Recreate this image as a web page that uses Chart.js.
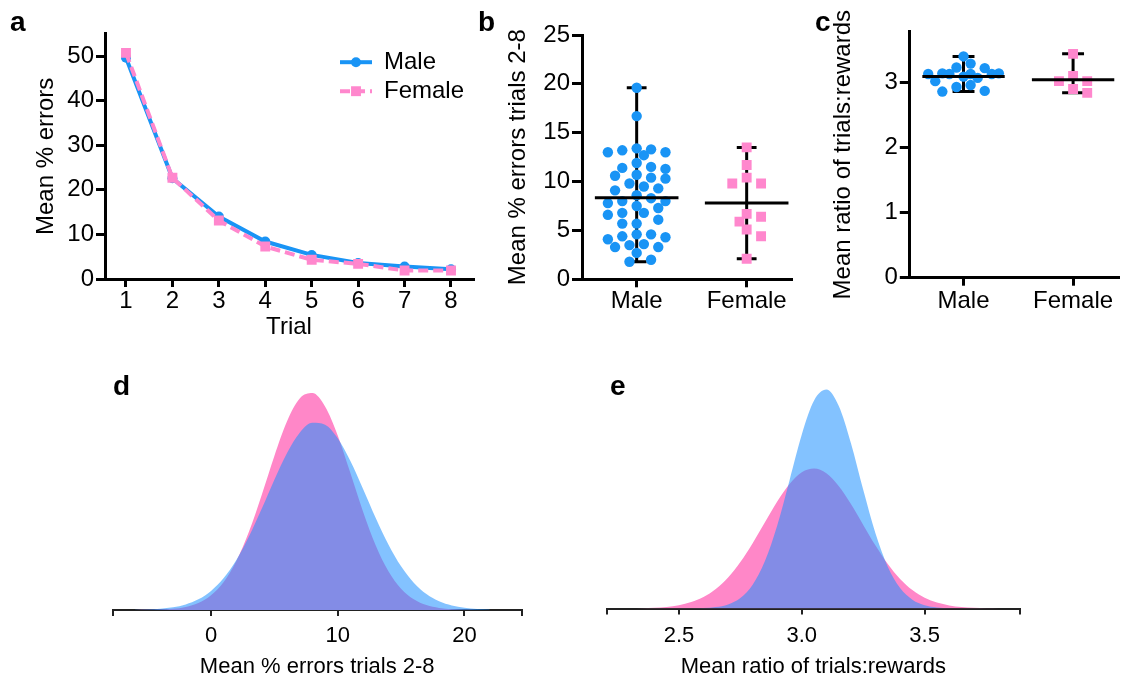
<!DOCTYPE html>
<html>
<head>
<meta charset="utf-8">
<script src="https://cdn.jsdelivr.net/npm/chart.js@4.4.0/dist/chart.umd.min.js"></script>
<style>
    html, body { margin: 0; padding: 0; background: #fff; }
    #page { position: relative; width: 1125px; height: 681px; overflow: hidden; }
    #page canvas { position: absolute; left: 0; top: 0; }
    .tag { position: absolute; font: bold 28px "Liberation Sans", Arial, sans-serif; line-height: 28px; color: #000; }
</style>
</head>
<body>
<div id="page">
    <canvas id="chart-a" width="1125" height="681"></canvas>
    <canvas id="chart-b" width="1125" height="681"></canvas>
    <canvas id="chart-c" width="1125" height="681"></canvas>
    <canvas id="chart-d" width="1125" height="681"></canvas>
    <canvas id="chart-e" width="1125" height="681"></canvas>
    <div class="tag" style="left:10px;top:8px">a</div>
    <div class="tag" style="left:478px;top:8px">b</div>
    <div class="tag" style="left:815px;top:8px">c</div>
    <div class="tag" style="left:113px;top:372px">d</div>
    <div class="tag" style="left:610px;top:372px">e</div>
</div>
<script>
// ---- data ----
var groups = ["Male", "Female"]

// a: mean % errors per trial
var trials = [1, 2, 3, 4, 5, 6, 7, 8]
var maleErrorsByTrial = [49.6, 22.6, 14.0, 8.4, 5.4, 3.6, 2.8, 2.2]
var femaleErrorsByTrial = [50.7, 22.7, 13.1, 7.3, 4.3, 3.4, 1.9, 1.9]
var errorTicks = [0, 10, 20, 30, 40, 50]

// b: mean % errors trials 2-8, one value per animal
var maleErrB = [19.6, 16.7, 13.3, 13.0, 13.4, 13.0, 13.2, 12.7, 11.9, 11.4, 11.3, 11.5, 10.3, 10.7, 10.6,
    10.4, 9.5, 9.3, 9.8, 9.1, 8.6, 8.3, 8.0, 7.8, 8.0, 7.5, 7.3, 6.8, 6.8, 6.6, 6.1, 5.7, 5.7, 4.6, 4.6,
    4.3, 4.4, 4.1, 3.3, 3.6, 3.5, 3.3, 2.7, 2.0, 1.8]
var femaleErrB = [13.5, 11.7, 9.8, 9.8, 10.4, 6.7, 6.4, 5.9, 5.1, 4.4, 2.1]
var maleMeanB = 8.35
var femaleMeanB = 7.8
var errBTicks = [0, 5, 10, 15, 20, 25]

// c: mean ratio of trials:rewards
var maleRatioC = [3.40, 3.29, 3.22, 3.13, 3.02, 3.13, 3.14, 3.14, 3.13, 3.23, 3.13, 3.09, 3.07, 2.96, 2.93, 2.86, 2.87]
var femaleRatioC = [3.44, 3.10, 3.02, 3.02, 2.90, 2.84]
var maleMeanC = 3.09
var femaleMeanC = 3.04
var ratioCTicks = [0, 1, 2, 3]

// d: fitted distributions of % errors (relative density)
var errGrid = [-6, -5, -4, -3, -2, -1, 0, 1, 2, 3, 4, 5, 6, 7, 8, 9, 10, 11, 12, 13, 14, 15, 16, 17, 18, 19, 20, 21, 22]
var maleErrCurve = [0.2, 0.5, 1.3, 2.7, 5.6, 10.7, 19.1, 32.0, 50.1, 73.7, 101.2, 130.3, 157.0, 177.3, 187.3,
    185.3, 171.7, 149.0, 121.1, 92.1, 65.6, 43.7, 27.3, 16.0, 8.7, 4.5, 2.2, 1.0, 0.4]
var femaleErrCurve = [0.0, 0.2, 0.5, 1.2, 3.1, 7.0, 14.7, 28.0, 49.1, 78.5, 115.1, 154.1, 188.8, 211.6, 216.9,
    203.5, 174.5, 136.9, 98.3, 64.6, 38.8, 21.3, 10.7, 4.9, 2.1, 0.8, 0.3, 0.1, 0.0]
var errDTicks = [0, 10, 20]

// e: fitted distributions of trials:rewards ratio (relative density)
var ratioGrid = [2.25, 2.30, 2.35, 2.40, 2.45, 2.50, 2.55, 2.60, 2.65, 2.70, 2.75, 2.80, 2.85, 2.90, 2.95, 3.00,
    3.05, 3.10, 3.15, 3.20, 3.25, 3.30, 3.35, 3.40, 3.45, 3.50, 3.55, 3.60, 3.65, 3.70, 3.75, 3.80, 3.85]
var maleRatioCurve = [0, 0, 0, 0, 0, 0, 0.1, 0.4, 1.4, 4.1, 10.5, 23.8, 47.4, 83.0, 128.1, 174.0,
    208.0, 218.9, 202.7, 165.3, 118.7, 75.0, 41.7, 20.4, 8.8, 3.3, 1.1, 0.3, 0, 0, 0, 0, 0]
var femaleRatioCurve = [0.1, 0.1, 0.3, 0.7, 1.6, 3.3, 6.4, 11.5, 19.5, 31.1, 46.5, 65.3, 86.2, 106.9, 124.5, 136.2,
    140.0, 135.2, 122.6, 104.5, 83.6, 62.9, 44.4, 29.5, 18.4, 10.8, 5.9, 3.1, 1.5, 0.7, 0.3, 0.1, 0.0]
var ratioETicks = [2.5, 3.0, 3.5]

// ---- styles ----
var FONT = '"Liberation Sans", Arial, sans-serif'
var BLUE = "rgb(25, 148, 245)"
var PINK = "rgb(255, 135, 205)"
var BLUE_FILL = "rgba(30, 144, 255, 0.55)"
var PINK_FILL = "rgb(255, 135, 200)"

Chart.defaults.font.family = FONT
Chart.defaults.color = "#000"
Chart.defaults.animation = false
Chart.defaults.plugins.legend.display = false
Chart.defaults.plugins.tooltip.enabled = false

function Elem(id){ return document.getElementById(id) }
function fixWidth(w){ return function(scale){ scale.width = w } }
function fixHeight(h){ return function(scale){ scale.height = h } }
function setTicks(list, withBounds){
    return function(scale){
        var vals = withBounds ? [scale.min].concat(list, [scale.max]) : list
        scale.ticks = vals.map(function(v){ return {value: v} })
    }
}
function xy(xs, ys){ return xs.map(function(x, i){ return {x: x, y: ys[i]} }) }

// beeswarm: horizontal offsets (in x units) so that dots don't pile up,
// kept inside +-maxOff px (least crowded spot wins when nothing is free)
function swarm(values, center, yPx, xPx, gap, step, maxOff){
    var placed = []
    var idx = values.map(function(v, i){ return i }).sort(function(a, b){ return values[b] - values[a] })
    var out = []
    var n = Math.floor(maxOff / step)
    idx.forEach(function(i){
        var y = values[i] * yPx
        var pick = null, best = 0, bestD = -1
        for(var k = 0; k <= 2 * n; k++){
            var dx = (k % 2 ? 1 : -1) * Math.ceil(k / 2) * step
            var d = placed.reduce(function(m, p){ return Math.min(m, Math.hypot(p.x - dx, p.y - y)) }, Infinity)
            if(d >= gap){ pick = dx; break }
            if(d > bestD){ bestD = d; best = dx }
        }
        if(pick === null) pick = best
        placed.push({x: pick, y: y})
        out[i] = {x: center + pick / xPx, y: values[i]}
    })
    return out
}
function rangeBar(center, vals, cap){
    var lo = Math.min.apply(null, vals), hi = Math.max.apply(null, vals)
    return [
        {x: center - cap, y: hi}, {x: center + cap, y: hi}, {x: center, y: null},
        {x: center, y: hi}, {x: center, y: lo}, {x: center, y: null},
        {x: center - cap, y: lo}, {x: center + cap, y: lo}
    ]
}
function meanBar(center, mean, half){
    return [{x: center - half, y: mean}, {x: center + half, y: mean}]
}

// legend drawn inside the plot area of panel a
var inlineLegend = {
    id: "inlineLegend",
    afterDatasetsDraw: function(chart){
        var ctx = chart.ctx
        var area = chart.chartArea
        var x0 = area.right - 133
        var y0 = area.top + 28.5
        groups.forEach(function(name, i){
            var ds = chart.data.datasets.find(function(d){ return d.label == name })
            var y = y0 + i * 29
            ctx.save()
            ctx.strokeStyle = ds.borderColor
            ctx.lineWidth = ds.borderWidth
            ctx.setLineDash(ds.borderDash || [])
            ctx.beginPath(); ctx.moveTo(x0, y); ctx.lineTo(x0 + 32, y); ctx.stroke()
            ctx.setLineDash([])
            ctx.fillStyle = ds.backgroundColor
            Chart.helpers.drawPoint(ctx, {pointStyle: ds.pointStyle, radius: ds.pointRadius, borderWidth: 0, rotation: 0}, x0 + 16, y)
            ctx.fillStyle = "#000"
            ctx.font = "24px " + FONT
            ctx.textBaseline = "middle"
            ctx.fillText(name, x0 + 44, y)
            ctx.restore()
        })
    }
}

function axisStyle(tickLen, width, color){
    return {
        grid: {drawOnChartArea: false, drawTicks: true, tickLength: tickLen, lineWidth: width, color: color},
        border: {display: true, color: color, width: width}
    }
}

// ---- a ----
var aX = axisStyle(8, 3, "#000"), aY = axisStyle(9, 3, "#000")
new Chart(Elem("chart-a"), {
    type: "line",
    data: {datasets: [
        {label: "Female", data: xy(trials, femaleErrorsByTrial), borderColor: PINK, backgroundColor: PINK,
         borderWidth: 4, borderDash: [10, 5], pointStyle: "rect", pointRadius: 7, pointBorderWidth: 0, order: 0},
        {label: "Male", data: xy(trials, maleErrorsByTrial), borderColor: BLUE, backgroundColor: BLUE,
         borderWidth: 4, pointStyle: "circle", pointRadius: 5, pointBorderWidth: 0, order: 1}
    ]},
    options: {
        responsive: false,
        layout: {padding: {left: 20, top: 33.7, right: 652, bottom: 336}},
        scales: {
            x: {type: "linear", min: 0.548, max: 8.474, afterBuildTicks: setTicks(trials), afterFit: fixHeight(66),
                grid: aX.grid, border: aX.border, ticks: {font: {size: 24}, padding: 0},
                title: {display: true, text: "Trial", font: {size: 24}, padding: {top: 0, bottom: 3}}},
            y: {min: 0, max: 55, afterBuildTicks: setTicks(errorTicks), afterFit: fixWidth(85),
                grid: aY.grid, border: aY.border, ticks: {font: {size: 24}, padding: 2},
                title: {display: true, text: "Mean % errors", font: {size: 24}, padding: {top: 11.6, bottom: 0}}}
        }
    },
    plugins: [inlineLegend]
})

// ---- b and c: scatter dot plots with mean and range ----
function dotPlot(id, o){
    var xPx = (o.area.right - o.area.left) / (o.xMax - o.xMin)
    var yPx = (o.area.bottom - o.area.top) / o.yMax
    var sx = axisStyle(8, 3, "#000"), sy = axisStyle(o.yTickLen, 3, "#000")
    var lineDs = function(data, ord){
        return {type: "line", data: data, borderColor: "#000", borderWidth: 3, pointRadius: 0, fill: false, order: ord}
    }
    new Chart(Elem(id), {
        type: "scatter",
        data: {datasets: [
            lineDs(meanBar(1, o.maleMean, o.meanHalf), 0),
            lineDs(meanBar(2, o.femaleMean, o.meanHalf), 0),
            {label: "Male", data: swarm(o.male, 1, yPx, xPx, o.gap, 7.2, o.spread), backgroundColor: BLUE, pointStyle: "circle",
             pointRadius: 5.2, pointBorderWidth: 0, order: 1},
            {label: "Female", data: swarm(o.female, 2, yPx, xPx, o.gap, 7.2, o.spread), backgroundColor: PINK, pointStyle: "rect",
             pointRadius: 7, pointBorderWidth: 0, order: 1},
            lineDs(rangeBar(1, o.male, o.cap), 2),
            lineDs(rangeBar(2, o.female, o.cap), 2)
        ]},
        options: {
            responsive: false,
            layout: {padding: {left: o.padLeft, top: o.area.top, right: 1125 - o.area.right, bottom: 681 - o.area.bottom - 40}},
            scales: {
                x: {type: "linear", min: o.xMin, max: o.xMax, afterBuildTicks: setTicks([1, 2]), afterFit: fixHeight(40),
                    grid: sx.grid, border: sx.border,
                    ticks: {font: {size: 24}, padding: o.xTickPad, callback: function(v){ return groups[v - 1] }}},
                y: {type: "linear", min: 0, max: o.yMax, afterBuildTicks: setTicks(o.yTicks), afterFit: fixWidth(o.area.left - o.padLeft),
                    grid: sy.grid, border: sy.border, ticks: {font: {size: 24}, padding: 2},
                    title: {display: true, text: o.title, font: {size: 24}, padding: {top: o.titlePad, bottom: 0}}}
            }
        }
    })
}

dotPlot("chart-b", {
    area: {left: 582, right: 791, top: 35, bottom: 279.3}, padLeft: 500, titlePad: 3.6,
    xMin: 0.503, xMax: 2.403, yMax: 25, yTicks: errBTicks, yTickLen: 10, xTickPad: 0, gap: 10, spread: 30,
    male: maleErrB, female: femaleErrB, maleMean: maleMeanB, femaleMean: femaleMeanB,
    meanHalf: 0.38, cap: 0.09, title: "Mean % errors trials 2-8"
})
dotPlot("chart-c", {
    area: {left: 909.3, right: 1122, top: 31.7, bottom: 277.7}, padLeft: 825, titlePad: 3.6,
    xMin: 0.505, xMax: 2.41, yMax: 3.78, yTicks: ratioCTicks, yTickLen: 9.5, xTickPad: 1.5, gap: 10, spread: 37,
    male: maleRatioC, female: femaleRatioC, maleMean: maleMeanC, femaleMean: femaleMeanC,
    meanHalf: 0.376, cap: 0.1, title: "Mean ratio of trials:rewards"
})

// ---- d and e: overlaid distributions ----
function densityPlot(id, o){
    var sx = axisStyle(6, 2, "#222")
    new Chart(Elem(id), {
        type: "line",
        data: {datasets: [
            {label: "Male", data: xy(o.grid, o.male), fill: "origin", backgroundColor: BLUE_FILL, borderColor: "transparent",
             borderWidth: 0, pointRadius: 0, cubicInterpolationMode: "monotone", order: 0},
            {label: "Female", data: xy(o.grid, o.female), fill: "origin", backgroundColor: PINK_FILL, borderColor: "transparent",
             borderWidth: 0, pointRadius: 0, cubicInterpolationMode: "monotone", order: 1}
        ]},
        options: {
            responsive: false,
            layout: {padding: {left: o.area.left, top: o.area.top, right: 1125 - o.area.right, bottom: 0}},
            scales: {
                x: {type: "linear", min: o.xMin, max: o.xMax, afterBuildTicks: setTicks(o.ticks, true),
                    afterFit: fixHeight(681 - o.area.bottom), grid: sx.grid, border: sx.border,
                    ticks: {font: {size: 22}, padding: o.tickPad, callback: function(v){ return o.ticks.indexOf(v) >= 0 ? o.fmt(v) : "" }},
                    title: {display: true, text: o.title, font: {size: 22}, padding: {top: 0, bottom: 1}}},
                y: {display: false, min: 0, max: 240}
            }
        }
    })
}

densityPlot("chart-d", {
    area: {left: 112.7, right: 521.7, top: 370, bottom: 610}, xMin: -7.76, xMax: 24.52,
    grid: errGrid, male: maleErrCurve, female: femaleErrCurve, ticks: errDTicks, tickPad: 7,
    fmt: function(v){ return String(v) }, title: "Mean % errors trials 2-8"
})
densityPlot("chart-e", {
    area: {left: 606.7, right: 1020, top: 368.5, bottom: 608.5}, xMin: 2.206, xMax: 3.888,
    grid: ratioGrid, male: maleRatioCurve, female: femaleRatioCurve, ticks: ratioETicks, tickPad: 8,
    fmt: function(v){ return v.toFixed(1) }, title: "Mean ratio of trials:rewards"
})
</script>
</body>
</html>
